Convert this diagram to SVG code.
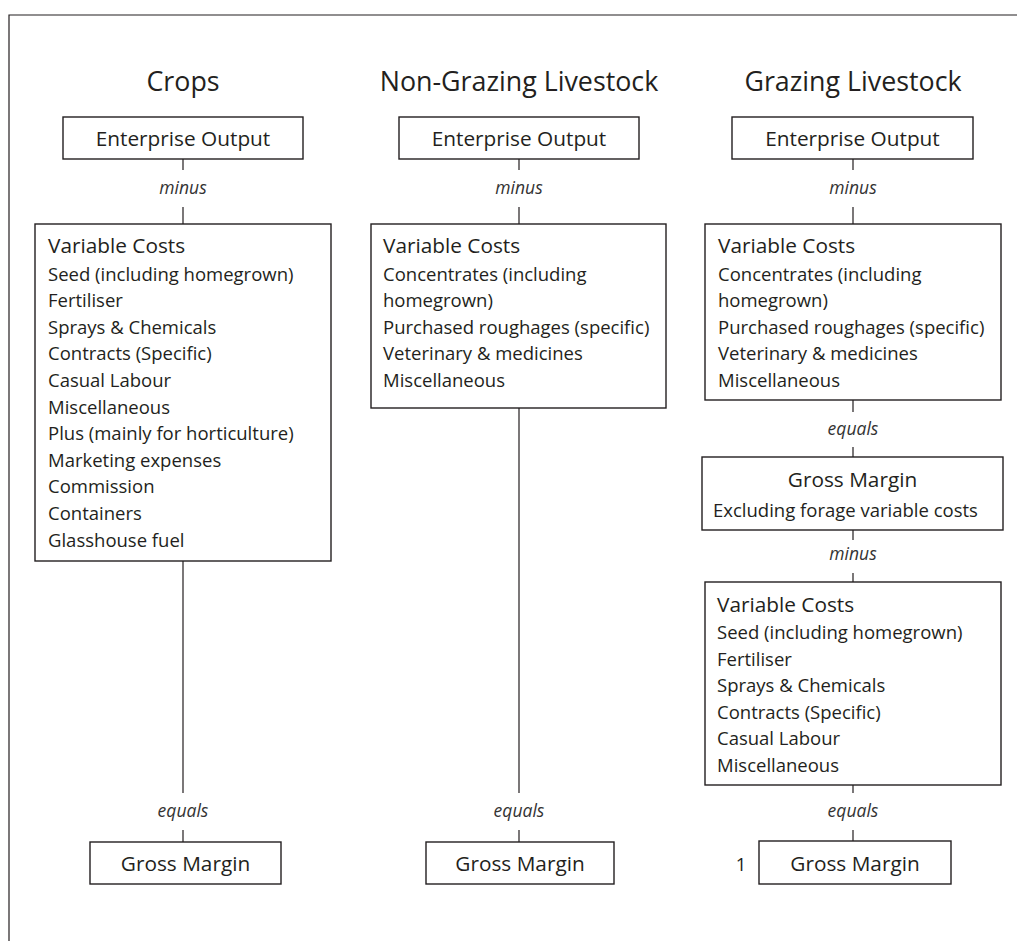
<svg xmlns="http://www.w3.org/2000/svg" width="1017" height="941" viewBox="0 0 1017 941">
<style>
text{font-family:"Open Sans","Noto Sans","DejaVu Sans",sans-serif;fill:#231f20}
.h{font-size:26.8px;text-anchor:middle}
.b{font-size:20.8px;text-anchor:middle}
.t{font-size:20.8px}
.i{font-size:18.5px}
.op{font-size:17.5px;font-style:italic;text-anchor:middle;fill:#333}
.box{fill:#fff;stroke:#231f20;stroke-width:1.4}
.ln{stroke:#231f20;stroke-width:1.2;fill:none}
</style>
<rect width="1017" height="941" fill="#fff"/>
<path class="ln" d="M9,941V15H1017"/>
<g id="headings">
<text class="h" x="183" y="91">Crops</text>
<text class="h" x="519" y="91">Non-Grazing Livestock</text>
<text class="h" x="853" y="91">Grazing Livestock</text>
</g>
<g id="connectors">
<path class="ln" d="M183,159V170M183,207V224M183,561V793M183,830V842"/>
<path class="ln" d="M519,159V170M519,207V224M519,408V793M519,830V842"/>
<path class="ln" d="M853,159V170M853,207V224M853,400V412M853,447V457M853,530V540M853,573V582M853,785V793M853,830V841"/>
<text class="op" x="183" y="194">minus</text>
<text class="op" x="519" y="194">minus</text>
<text class="op" x="853" y="194">minus</text>
<text class="op" x="853" y="435">equals</text>
<text class="op" x="853" y="560">minus</text>
<text class="op" x="183" y="817">equals</text>
<text class="op" x="519" y="817">equals</text>
<text class="op" x="853" y="817">equals</text>
</g>
<g id="crops-output">
<rect class="box" x="63" y="117" width="240" height="42"/>
<text class="b" x="183" y="146">Enterprise Output</text>
</g>
<g id="crops-costs">
<rect class="box" x="35" y="224" width="296" height="337"/>
<text class="t" x="48" y="253">Variable Costs</text>
<text class="i" x="48" y="280.6">Seed (including homegrown)</text>
<text class="i" x="48" y="307.2">Fertiliser</text>
<text class="i" x="48" y="333.8">Sprays &amp; Chemicals</text>
<text class="i" x="48" y="360.4">Contracts (Specific)</text>
<text class="i" x="48" y="387">Casual Labour</text>
<text class="i" x="48" y="413.6">Miscellaneous</text>
<text class="i" x="48" y="440.2">Plus (mainly for horticulture)</text>
<text class="i" x="48" y="466.8">Marketing expenses</text>
<text class="i" x="48" y="493.4">Commission</text>
<text class="i" x="48" y="520">Containers</text>
<text class="i" x="48" y="546.6">Glasshouse fuel</text>
</g>
<g id="crops-gm">
<rect class="box" x="90" y="842" width="191" height="42"/>
<text class="b" x="185.5" y="871">Gross Margin</text>
</g>
<g id="ngl-output">
<rect class="box" x="399" y="117" width="240" height="42"/>
<text class="b" x="519" y="146">Enterprise Output</text>
</g>
<g id="ngl-costs">
<rect class="box" x="371" y="224" width="295" height="184"/>
<text class="t" x="383" y="253">Variable Costs</text>
<text class="i" x="383" y="280.6">Concentrates (including</text>
<text class="i" x="383" y="307.2">homegrown)</text>
<text class="i" x="383" y="333.8">Purchased roughages (specific)</text>
<text class="i" x="383" y="360.4">Veterinary &amp; medicines</text>
<text class="i" x="383" y="387">Miscellaneous</text>
</g>
<g id="ngl-gm">
<rect class="box" x="426" y="842" width="188" height="42"/>
<text class="b" x="520" y="871">Gross Margin</text>
</g>
<g id="gl-output">
<rect class="box" x="732" y="117" width="241" height="42"/>
<text class="b" x="852.5" y="146">Enterprise Output</text>
</g>
<g id="gl-costs">
<rect class="box" x="705" y="224" width="296" height="176"/>
<text class="t" x="718" y="253">Variable Costs</text>
<text class="i" x="718" y="280.6">Concentrates (including</text>
<text class="i" x="718" y="307.2">homegrown)</text>
<text class="i" x="718" y="333.8">Purchased roughages (specific)</text>
<text class="i" x="718" y="360.4">Veterinary &amp; medicines</text>
<text class="i" x="718" y="387">Miscellaneous</text>
</g>
<g id="gl-gm-excl">
<rect class="box" x="702" y="457" width="301" height="73"/>
<text class="b" x="852.5" y="487">Gross Margin</text>
<text class="i" x="713" y="517">Excluding forage variable costs</text>
</g>
<g id="gl-forage-costs">
<rect class="box" x="705" y="582" width="296" height="203"/>
<text class="t" x="717" y="612">Variable Costs</text>
<text class="i" x="717" y="639">Seed (including homegrown)</text>
<text class="i" x="717" y="665.6">Fertiliser</text>
<text class="i" x="717" y="692.2">Sprays &amp; Chemicals</text>
<text class="i" x="717" y="718.8">Contracts (Specific)</text>
<text class="i" x="717" y="745.4">Casual Labour</text>
<text class="i" x="717" y="772">Miscellaneous</text>
</g>
<g id="gl-gm">
<rect class="box" x="759" y="841" width="192" height="43"/>
<text class="b" x="855" y="871">Gross Margin</text>
<text class="i" x="741" y="871" text-anchor="middle">1</text>
</g>
</svg>
